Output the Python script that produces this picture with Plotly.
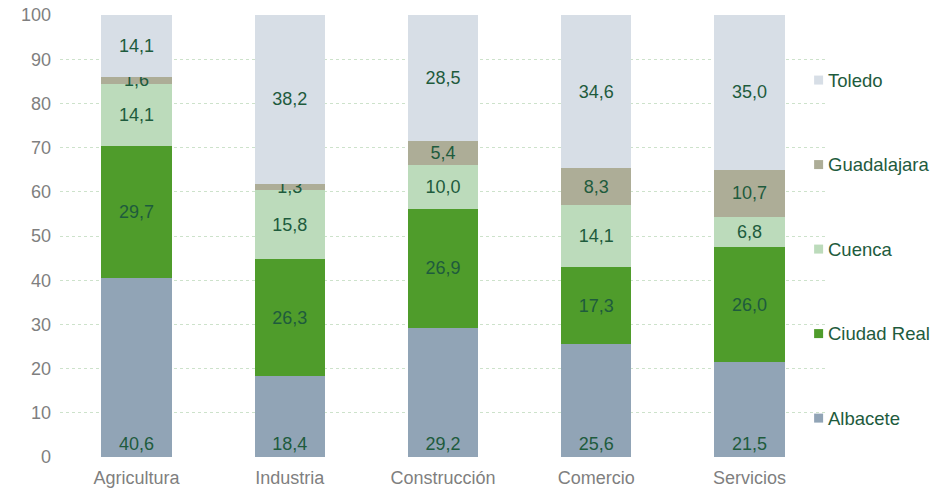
import plotly.graph_objects as go

categories = ["Agricultura", "Industria", "Construcción", "Comercio", "Servicios"]
albacete = [40.6, 18.4, 29.2, 25.6, 21.5]
ciudad_real = [29.7, 26.3, 26.9, 17.3, 26.0]
cuenca = [14.1, 15.8, 10.0, 14.1, 6.8]
guadalajara = [1.6, 1.3, 5.4, 8.3, 10.7]
toledo = [14.1, 38.2, 28.5, 34.6, 35.0]

series = [
    ("Albacete", albacete, "#91a4b6", "start"),
    ("Ciudad Real", ciudad_real, "#4f9c2b", "middle"),
    ("Cuenca", cuenca, "#bcdbbb", "middle"),
    ("Guadalajara", guadalajara, "#adad97", "middle"),
    ("Toledo", toledo, "#d7dee6", "middle"),
]

label_color = "#1e5b3d"
font_family = "Liberation Sans, Arial, sans-serif"

fig = go.Figure()
for name, vals, color, anchor in series:
    fig.add_trace(go.Bar(
        x=categories, y=vals, name=name,
        marker=dict(color=color, line=dict(width=0)),
        texttemplate="%{y:.1f}", textposition="inside",
        insidetextanchor=anchor, textangle=0, constraintext="none",
        textfont=dict(color=label_color, size=18, family=font_family),
        hoverinfo="skip", showlegend=False,
    ))

# Legend drawn beside the plot (bottom entry = first series)
leg_x_marker = 0.9995
leg_x_text = 1.0007
leg_y0 = 0.088
leg_step = 0.1912
for i, (name, vals, color, anchor) in enumerate(series):
    yy = leg_y0 + i * leg_step
    fig.add_shape(
        type="rect", xref="paper", yref="paper",
        xsizemode="pixel", ysizemode="pixel",
        xanchor=leg_x_marker, yanchor=yy,
        x0=-11.5, x1=-2.5, y0=-4.5, y1=4.5,
        fillcolor=color, line=dict(width=0),
    )
    fig.add_annotation(
        x=leg_x_text, y=yy, xref="paper", yref="paper",
        text=name, showarrow=False, xanchor="left", yanchor="middle",
        font=dict(color=label_color, size=18.5, family=font_family),
        borderpad=0,
    )

fig.update_layout(
    barmode="stack",
    bargap=0.54,
    width=932, height=493,
    margin=dict(l=60, r=106, t=15, b=36),
    paper_bgcolor="white", plot_bgcolor="white",
    separators=",.",
    font=dict(family=font_family, size=18, color="#7f7f7f"),
    showlegend=False,
)
fig.update_yaxes(
    range=[0, 100], dtick=10, showgrid=True, gridcolor="#cde2cb",
    griddash="dot", gridwidth=1, zeroline=False, showline=False,
    ticks="", ticklabelstandoff=8, automargin=False,
    tickfont=dict(color="#7f7f7f", size=18),
)
fig.update_xaxes(
    showgrid=False, showline=False, ticks="", ticklabelstandoff=8,
    automargin=False,
    tickfont=dict(color="#7f7f7f", size=18),
)

fig.write_html(
    "out.html",
    config={"displayModeBar": False},
    post_script="document.body.style.margin='0';document.body.style.overflow='hidden';",
)
